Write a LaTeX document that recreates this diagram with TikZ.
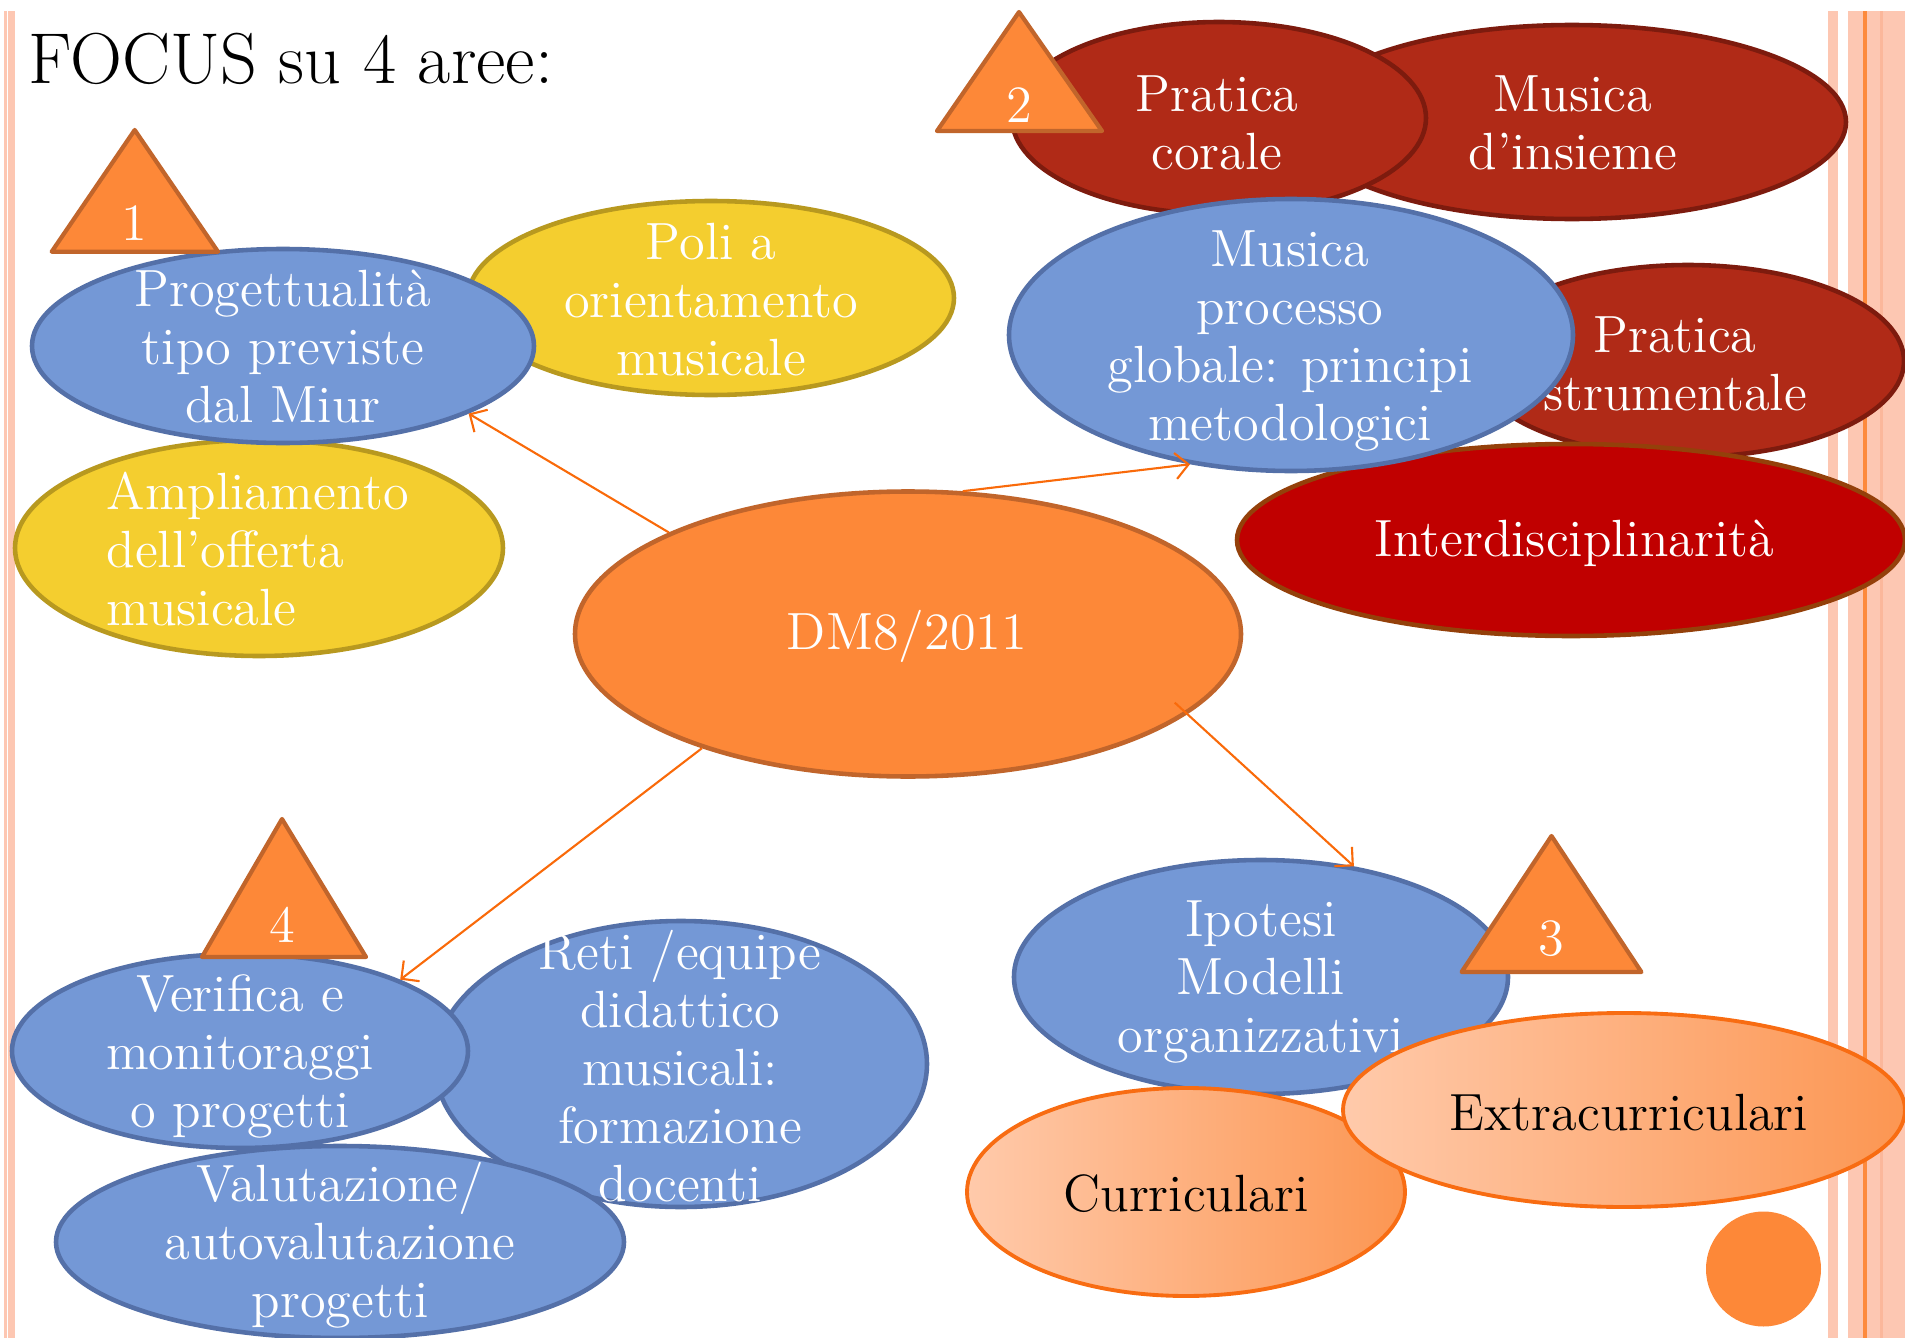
\documentclass[tikz,border=0pt]{standalone}
\usetikzlibrary{shapes.geometric,arrows.meta}
\definecolor{cBlue}{HTML}{7498D6}
\definecolor{cBlueB}{HTML}{5470A8}
\definecolor{cYel}{HTML}{F4CE2F}
\definecolor{cYelB}{HTML}{B8991F}
\definecolor{cOr}{HTML}{FD8838}
\definecolor{cOrB}{HTML}{C1652B}
\definecolor{cRed}{HTML}{B02A17}
\definecolor{cRedB}{HTML}{7D1B0E}
\definecolor{cInt}{HTML}{C00000}
\definecolor{cIntB}{HTML}{94400A}
\definecolor{cArr}{HTML}{F96A0A}
\definecolor{cStripe}{HTML}{FDC7B2}
\definecolor{cStripeD}{HTML}{FBB79B}
\definecolor{cStripeL}{HTML}{FD8A3D}
\definecolor{cGradL}{HTML}{FFCAAB}
\definecolor{cGradR}{HTML}{FC9652}
\definecolor{cGradB}{HTML}{F86C12}
\newcommand\nfont{\fontsize{14.9pt}{16.5pt}\selectfont}
\tikzset{
  ell/.style={ellipse, inner sep=0pt, line width=1.3pt},
  blueell/.style={ell, fill=cBlue, draw=cBlueB},
  yelell/.style={ell, fill=cYel, draw=cYelB},
  redell/.style={ell, fill=cRed, draw=cRedB},
  intell/.style={ell, fill=cInt, draw=cIntB},
  orell/.style={ell, fill=cOr, draw=cOrB},
  gradell/.style={ell, left color=cGradL, right color=cGradR, draw=cGradB, line width=1.1pt},
  tri/.style={fill=cOr, draw=cOrB, line width=1.2pt, line join=round},
  wtxt/.style={text=white, align=center, font=\nfont, inner sep=0pt},
  btxt/.style={text=black, align=center, font=\nfont, inner sep=0pt},
  arr/.style={draw=cArr, line width=0.6pt, -{Straight Barb[length=1.3mm,width=2.6mm]}},
}
\begin{document}
\begin{tikzpicture}[x=0.1mm,y=-0.1mm]
\useasboundingbox (0,0) rectangle (1905,1338);
\clip (0,0) rectangle (1905,1338);
% background stripes
\fill[cStripe] (3.8,11) rectangle (6.9,1338);
\fill[cStripe] (8.4,11) rectangle (14.5,1338);
\fill[cStripe] (1828,11) rectangle (1838,1338);
\fill[cStripe] (1848,11) rectangle (1905,1338);
\fill[cStripeD] (1880,11) rectangle (1883,1338);
\fill[cStripeL] (1863,11) rectangle (1867,1338);
% title
\node[anchor=base west, inner sep=0pt, font=\fontsize{20.5pt}{24pt}\selectfont] (title) at (28,83) {FOCUS su 4 aree:};
% area 1
\node[yelell, minimum width=48.6mm, minimum height=19.4mm] (poli) at (711,298) {};
\node[wtxt] (politxt) at (711,300) {Poli a\\orientamento\\musicale};
\node[yelell, minimum width=48.8mm, minimum height=21.6mm] (ampl) at (259,548) {};
\node[wtxt, align=left, anchor=west] (ampltxt) at (106,549) {Ampliamento\\dell’offerta\\musicale};
\node[blueell, minimum width=50.2mm, minimum height=19.4mm] (prog) at (283,346) {};
\filldraw[tri] (134.7,130) coordinate (t1a) -- (51.7,251.7) coordinate (t1b) -- (218,251.7) coordinate (t1c) -- cycle;
\node[wtxt] (t1) at (134.7,223) {1};
\node[wtxt] (progtxt) at (283,347) {Progettualità\\tipo previste\\dal Miur};
% area 2
\node[redell, minimum width=54.8mm, minimum height=19.4mm] (insieme) at (1572,122) {};
\node[wtxt] (insiemetxt) at (1573,123) {Musica\\d’insieme};
\node[redell, minimum width=41.4mm, minimum height=19.2mm] (corale) at (1219,118) {};
\node[wtxt] (coraletxt) at (1217,123) {Pratica\\corale};
\filldraw[tri] (1019,12) coordinate (t2a) -- (937,131) coordinate (t2b) -- (1102,131) coordinate (t2c) -- cycle;
\node[wtxt] (t2) at (1019,105) {2};
\node[redell, minimum width=43.2mm, minimum height=19.2mm] (strum) at (1688,361) {};
\node[wtxt] (strumtxt) at (1675,364) {Pratica\\strumentale};
\node[intell, minimum width=66.8mm, minimum height=19.2mm] (interd) at (1571,540) {};
\node[wtxt] (interdtxt) at (1574.5,543) {Interdisciplinarità};
\node[blueell, minimum width=56.4mm, minimum height=27.2mm] (musproc) at (1291,335) {};
\node[wtxt] (musproctxt) at (1290,341) {Musica\\processo\\globale: principi\\metodologici};
% centre
\node[orell, minimum width=66.6mm, minimum height=28.5mm] (dm) at (908,634) {};
\node[wtxt] (dmtxt) at (907,636) {DM8/2011};
% area 4
\node[blueell, minimum width=49.2mm, minimum height=28.6mm] (reti) at (681,1064) {};
\node[blueell, minimum width=45.6mm, minimum height=19.4mm] (verif) at (240,1051) {};
\node[blueell, minimum width=56.8mm, minimum height=19.2mm] (valut) at (340,1242) {};
\filldraw[tri] (282,819) coordinate (t4a) -- (202,957) coordinate (t4b) -- (366,957) coordinate (t4c) -- cycle;
\node[wtxt] (t4) at (282,925) {4};
\node[wtxt] (retitxt) at (680,1066) {Reti /equipe\\didattico\\musicali:\\formazione\\docenti};
\node[wtxt] (veriftxt) at (240,1056) {Verifica e\\monitoraggi\\o progetti};
\node[wtxt] (valuttxt) at (340,1245) {Valutazione/\\autovalutazione\\progetti};
% area 3
\node[blueell, minimum width=49.4mm, minimum height=23.4mm] (ipot) at (1261,977) {};
\node[wtxt] (ipottxt) at (1261,982) {Ipotesi\\Modelli\\organizzativi};
\filldraw[tri] (1551.5,836) coordinate (t3a) -- (1461.6,972) coordinate (t3b) -- (1641.4,972) coordinate (t3c) -- cycle;
\node[wtxt] (t3) at (1551.5,939) {3};
\node[gradell, minimum width=43.8mm, minimum height=20.8mm] (curr) at (1186,1192) {};
\node[btxt] (currtxt) at (1186,1194) {Curriculari};
\node[gradell, minimum width=56.2mm, minimum height=19.4mm] (extra) at (1624,1110) {};
\node[btxt] (extratxt) at (1629,1113) {Extracurriculari};
\node[circle, fill=cOr, inner sep=0pt, minimum size=11.5mm] (dot) at (1763.5,1269) {};
% connectors
\draw[arr] (dm.157) -- (prog.-20);
\draw[arr] (dm.69) -- (musproc.232);
\draw[arr] (dm.209) -- (verif.24);
\draw[arr, shorten <=-1.7mm] (dm.344) -- (ipot.50);
\end{tikzpicture}
\end{document}
